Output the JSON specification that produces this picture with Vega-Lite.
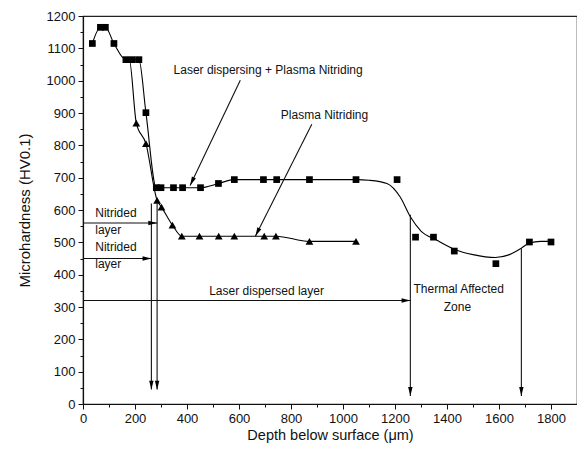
{
  "$schema": "https://vega.github.io/schema/vega-lite/v6.json",
  "width": 494,
  "height": 388,
  "autosize": {"type": "none"},
  "padding": {"left": 83, "top": 16, "right": 0, "bottom": 50},
  "background": "white",
  "config": {
    "font": "Liberation Sans",
    "view": {"stroke": "#222", "strokeWidth": 1.2},
    "axis": {
      "grid": false,
      "domainColor": "#111",
      "domainWidth": 1.2,
      "tickColor": "#111",
      "tickWidth": 1,
      "labelFont": "Liberation Sans",
      "labelFontSize": 13,
      "labelColor": "#111",
      "titleFont": "Liberation Sans",
      "titleFontWeight": "normal",
      "titleColor": "#111"
    }
  },
  "datasets": {
    "ldCurve": [
      {"x": 36, "y": 1115}, {"x": 67, "y": 1165}, {"x": 86, "y": 1165}, {"x": 119, "y": 1115},
      {"x": 165, "y": 1065}, {"x": 190, "y": 1065}, {"x": 215, "y": 1065}, {"x": 242, "y": 901},
      {"x": 282, "y": 669}, {"x": 300, "y": 669}, {"x": 348, "y": 669}, {"x": 383, "y": 669},
      {"x": 452, "y": 669}, {"x": 521, "y": 682}, {"x": 582, "y": 694}, {"x": 694, "y": 694},
      {"x": 745, "y": 694}, {"x": 871, "y": 694}, {"x": 1050, "y": 694}, {"x": 1100, "y": 692},
      {"x": 1169, "y": 682}, {"x": 1220, "y": 640}, {"x": 1259, "y": 579}, {"x": 1300, "y": 535},
      {"x": 1360, "y": 507}, {"x": 1430, "y": 478}, {"x": 1500, "y": 462}, {"x": 1586, "y": 453},
      {"x": 1640, "y": 462}, {"x": 1686, "y": 482}, {"x": 1717, "y": 498}, {"x": 1760, "y": 503},
      {"x": 1800, "y": 503}
    ],
    "ld": [
      {"x": 36, "y": 1115}, {"x": 67, "y": 1165}, {"x": 86, "y": 1165}, {"x": 119, "y": 1115},
      {"x": 165, "y": 1065}, {"x": 190, "y": 1065}, {"x": 215, "y": 1065}, {"x": 242, "y": 901},
      {"x": 282, "y": 669}, {"x": 300, "y": 669}, {"x": 348, "y": 669}, {"x": 383, "y": 669},
      {"x": 452, "y": 669}, {"x": 521, "y": 682}, {"x": 582, "y": 694}, {"x": 694, "y": 694},
      {"x": 745, "y": 694}, {"x": 871, "y": 694}, {"x": 1050, "y": 694}, {"x": 1208, "y": 694},
      {"x": 1279, "y": 516}, {"x": 1348, "y": 516}, {"x": 1428, "y": 473}, {"x": 1588, "y": 434},
      {"x": 1717, "y": 501}, {"x": 1800, "y": 501}
    ],
    "pn": [
      {"x": 160, "y": 1065}, {"x": 178, "y": 1065}, {"x": 205, "y": 869}, {"x": 242, "y": 805},
      {"x": 285, "y": 630}, {"x": 302, "y": 609}, {"x": 344, "y": 553}, {"x": 380, "y": 519},
      {"x": 448, "y": 519}, {"x": 522, "y": 519}, {"x": 582, "y": 519}, {"x": 697, "y": 519},
      {"x": 742, "y": 519}, {"x": 871, "y": 503}, {"x": 1050, "y": 503}
    ],
    "rules": [
      {"x": 0, "x2": 285, "y": 560, "y2": 560},
      {"x": 0, "x2": 263, "y": 450, "y2": 450},
      {"x": 0, "x2": 1259, "y": 320, "y2": 320},
      {"x": 263, "x2": 263, "y": 620, "y2": 45},
      {"x": 285, "x2": 285, "y": 620, "y2": 45},
      {"x": 1259, "x2": 1259, "y": 585, "y2": 25},
      {"x": 1686, "x2": 1686, "y": 482, "y2": 25},
      {"x": 605, "x2": 412, "y": 1001, "y2": 676},
      {"x": 880, "x2": 663, "y": 865, "y2": 519}
    ],
    "heads": [
      {"x": 285, "y": 560, "angle": 270},
      {"x": 263, "y": 450, "angle": 270},
      {"x": 1259, "y": 320, "angle": 270},
      {"x": 263, "y": 45, "angle": 0},
      {"x": 285, "y": 45, "angle": 0},
      {"x": 1259, "y": 25, "angle": 0},
      {"x": 1686, "y": 25, "angle": 0},
      {"x": 412, "y": 676, "angle": 25.5},
      {"x": 663, "y": 519, "angle": 26.7}
    ],
    "centerLabels": [
      {"x": 712, "y": 1032, "text": "Laser dispersing + Plasma Nitriding"},
      {"x": 929, "y": 893, "text": "Plasma Nitriding"},
      {"x": 706, "y": 349, "text": "Laser dispersed layer"},
      {"x": 1440, "y": 300, "text": "Zone"}
    ],
    "leftLabels": [
      {"x": 47, "y": 590, "text": "Nitrided"},
      {"x": 47, "y": 539, "text": "layer"},
      {"x": 47, "y": 487, "text": "Nitrided"},
      {"x": 47, "y": 433, "text": "layer"},
      {"x": 1271, "y": 355, "text": "Thermal Affected"}
    ]
  },
  "encoding": {
    "x": {
      "field": "x", "type": "quantitative",
      "scale": {"domain": [0, 1900], "nice": false, "zero": false},
      "axis": {
        "title": "Depth below surface (μm)",
        "titleFontSize": 14.5,
        "titlePadding": 3,
        "values": [0, 100, 200, 300, 400, 500, 600, 700, 800, 900, 1000, 1100, 1200, 1300, 1400, 1500, 1600, 1700, 1800, 1900],
        "labelExpr": "(datum.value % 200 == 0 && datum.value < 1900) ? datum.label : ''",
        "format": "d",
        "labelPadding": 3,
        "labelFlush": false,
        "labelOverlap": false,
        "tickSize": {"condition": {"test": "datum.value % 200 == 0", "value": 5}, "value": 3}
      }
    },
    "y": {
      "field": "y", "type": "quantitative",
      "scale": {"domain": [0, 1200], "nice": false, "zero": false},
      "axis": {
        "title": "Microhardness (HV0.1)",
        "titleFontSize": 15,
        "titlePadding": 14,
        "values": [0, 50, 100, 150, 200, 250, 300, 350, 400, 450, 500, 550, 600, 650, 700, 750, 800, 850, 900, 950, 1000, 1050, 1100, 1150, 1200],
        "labelExpr": "(datum.value % 100 == 0) ? datum.label : ''",
        "format": "d",
        "labelPadding": 3,
        "labelFlush": false,
        "labelOverlap": false,
        "tickSize": {"condition": {"test": "datum.value % 100 == 0", "value": 5}, "value": 3}
      }
    }
  },
  "layer": [
    {
      "data": {"name": "ldCurve"},
      "mark": {"type": "line", "color": "black", "strokeWidth": 1.1, "interpolate": "monotone"}
    },
    {
      "data": {"name": "pn"},
      "mark": {"type": "line", "color": "black", "strokeWidth": 1.1, "interpolate": "monotone"}
    },
    {
      "data": {"name": "ld"},
      "mark": {"type": "point", "shape": "square", "filled": true, "color": "black", "size": 45, "opacity": 1}
    },
    {
      "data": {"name": "pn"},
      "transform": [{"filter": "datum.x > 190"}],
      "mark": {"type": "point", "shape": "triangle-up", "filled": true, "color": "black", "size": 60, "opacity": 1}
    },
    {
      "data": {"name": "rules"},
      "mark": {"type": "rule", "color": "#111", "strokeWidth": 1.1},
      "encoding": {"x2": {"field": "x2"}, "y2": {"field": "y2"}}
    },
    {
      "data": {"name": "heads"},
      "mark": {"type": "point", "shape": "M-0.55,-2.2L0.55,-2.2L0,0Z", "filled": true, "color": "black", "size": 64, "opacity": 1},
      "encoding": {"angle": {"field": "angle", "type": "quantitative", "scale": null}}
    },
    {
      "data": {"name": "centerLabels"},
      "mark": {"type": "text", "fontSize": 12, "color": "#111", "baseline": "middle", "align": "center", "font": "Liberation Sans"},
      "encoding": {"text": {"field": "text"}}
    },
    {
      "data": {"name": "leftLabels"},
      "mark": {"type": "text", "fontSize": 12, "color": "#111", "baseline": "middle", "align": "left", "font": "Liberation Sans"},
      "encoding": {"text": {"field": "text"}}
    }
  ]
}
